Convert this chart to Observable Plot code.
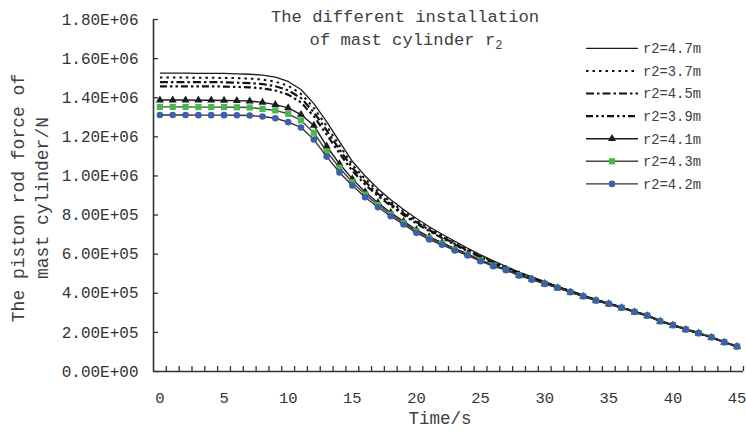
<!DOCTYPE html>
<html><head><meta charset="utf-8">
<script src="https://cdn.jsdelivr.net/npm/d3@7"></script>
<script src="https://cdn.jsdelivr.net/npm/@observablehq/plot@0.6"></script>
<style>
body{margin:0;background:#fff;}
#wrap{position:relative;width:746px;height:431px;font-family:"Liberation Mono",monospace;}
#wrap svg{position:absolute;left:0;top:0;overflow:visible;}
</style></head><body><div id="wrap"></div>
<script>
// ---------- data ----------
const time = [0,1,2,3,4,5,6,7,8,9,10,11,12,13,14,15,16,17,18,19,20,21,22,23,24,25,26,27,28,29,30,31,32,33,34,35,36,37,38,39,40,41,42,43,44,45];
const seriesNames = ["r2=4.7m","r2=3.7m","r2=4.5m","r2=3.9m","r2=4.1m","r2=4.3m","r2=4.2m"];
const r47 = [1526000,1526000,1526000,1525000,1525000,1524000,1522000,1520000,1516000,1505000,1483000,1442000,1370000,1278000,1176000,1075000,1000000,935000,878000,828000,782000,740000,702000,666000,630000,597000,566000,537000,508000,484000,460000,436000,413000,390000,367000,349000,328000,307000,287000,258000,238000,216000,196000,175000,150000,128000];
const r37 = [1503000,1503000,1503000,1502000,1502000,1501000,1500000,1498000,1493000,1482000,1461000,1420000,1348000,1255000,1155000,1058000,985000,922000,867000,818000,773000,732000,695000,659000,624000,591000,561000,533000,504000,481000,457000,434000,411000,389000,366000,348000,327000,306000,287000,258000,238000,216000,196000,175000,150000,128000];
const r45 = [1480000,1480000,1480000,1480000,1480000,1479000,1477000,1475000,1470000,1459000,1438000,1398000,1326000,1233000,1135000,1042000,970000,909000,856000,808000,764000,724000,688000,653000,619000,587000,557000,530000,502000,479000,455000,432000,410000,388000,365000,347000,327000,306000,287000,258000,238000,216000,196000,175000,150000,128000];
const r39 = [1458000,1458000,1458000,1458000,1458000,1457000,1455000,1453000,1448000,1437000,1416000,1376000,1305000,1212000,1116000,1026000,956000,898000,847000,800000,757000,718000,683000,648000,615000,584000,554000,528000,500000,477000,453000,431000,409000,387000,365000,347000,327000,306000,287000,258000,238000,216000,196000,175000,150000,128000];
const r41 = [1388000,1388000,1388000,1387000,1387000,1386000,1385000,1383000,1376000,1365000,1348000,1314000,1258000,1152000,1062000,985000,918000,863000,812000,768000,724000,688000,659000,628000,601000,571000,544000,522000,494000,472000,449000,428000,406000,384000,362000,345000,325000,304000,284000,256000,236000,214000,195000,173000,149000,127000];
const r43 = [1353000,1353000,1353000,1352000,1352000,1352000,1351000,1350000,1343000,1335000,1318000,1284000,1221000,1125000,1042000,968000,905000,852000,803000,760000,717000,682000,654000,624000,597000,568000,541000,520000,492000,471000,449000,428000,406000,385000,363000,346000,326000,305000,286000,257000,237000,215000,196000,175000,150000,128000];
const r42 = [1312000,1312000,1312000,1311000,1311000,1311000,1310000,1309000,1304000,1295000,1275000,1248000,1186000,1099000,1018000,951000,891000,840000,794000,752000,709000,675000,648000,619000,593000,564000,538000,518000,491000,470000,448000,428000,406000,385000,363000,346000,326000,305000,286000,257000,237000,215000,196000,175000,150000,128000];
const seriesValues = [r47, r37, r45, r39, r41, r43, r42];
const yTicks = [0,200000,400000,600000,800000,1000000,1200000,1400000,1600000,1800000];
const yTickLabels = ["0.00E+00","2.00E+05","4.00E+05","6.00E+05","8.00E+05","1.00E+06","1.20E+06","1.40E+06","1.60E+06","1.80E+06"];
const xTicks = [0,5,10,15,20,25,30,35,40,45];
const xMinorTicks = [0.5,1.5,2.5,3.5,4.5,5.5,6.5,7.5,8.5,9.5,10.5,11.5,12.5,13.5,14.5,15.5,16.5,17.5,18.5,19.5,20.5,21.5,22.5,23.5,24.5,25.5,26.5,27.5,28.5,29.5,30.5,31.5,32.5,33.5,34.5,35.5,36.5,37.5,38.5,39.5,40.5,41.5,42.5,43.5,44.5,45.5];
const titleLine1 = "The different installation";
const titleLine2 = "of mast cylinder r";
const titleSub = "2";
const yTitle1 = "The piston rod force of";
const yTitle2 = "mast cylinder/N";
const xTitle = "Time/s";

// ---------- styles ----------
const styles = [
  {stroke:"#1a1a1a", width:1.3, dash:null, symbol:null},
  {stroke:"#111", width:2, dash:"2.5,4", symbol:null},
  {stroke:"#111", width:2.2, dash:"8,3,2.5,3", symbol:null},
  {stroke:"#111", width:2.2, dash:"7,3,2.5,3,2.5,3", symbol:null},
  {stroke:"#1a1a1a", width:1.4, dash:null, symbol:"triangle", fill:"#1a1a1a", r:3},
  {stroke:"#444", width:1.4, dash:null, symbol:"square", fill:"#4bb749", r:3.5},
  {stroke:"#333", width:1.4, dash:null, symbol:"circle", fill:"#3d5fae", r:3.3}
];

const rows = seriesNames.map((name, i) => time.map((t, j) => ({t, v: seriesValues[i][j], s: name})));

const marks = [];
rows.forEach((data, i) => {
  const st = styles[i];
  marks.push(Plot.line(data, {x:"t", y:"v", stroke: st.stroke, strokeWidth: st.width, strokeDasharray: st.dash || undefined, strokeLinecap:"butt"}));
  if (st.symbol) marks.push(Plot.dot(data, {x:"t", y:"v", symbol: st.symbol, fill: st.fill, stroke:"none", r: st.r}));
});

const W = 746, H = 431, ML = 153, MR = 3, MT = 19, MB = 60;
const chart = Plot.plot({
  width: W, height: H,
  marginLeft: ML, marginRight: MR, marginTop: MT, marginBottom: MB,
  style: {fontFamily: "'Liberation Mono', monospace", color: "#333", background: "transparent", overflow:"visible"},
  x: {domain: [-0.5, 45.5], axis: null},
  y: {domain: [0, 1800000], axis: null},
  marks: [
    Plot.tickY(yTicks, {y: d => d, insetRight: (W - ML - MR) - 5, stroke:"#333", strokeWidth:1.3}),
    Plot.tickX(xMinorTicks, {x: d => d, insetTop: (H - MT - MB) - 5, stroke:"#333", strokeWidth:1.3}),
    Plot.ruleX([-0.5], {stroke:"#333", strokeWidth:1.6}),
    Plot.ruleY([0], {stroke:"#333", strokeWidth:1.6}),
    Plot.axisY(yTicks, {tickSize:0, tickPadding:15, fontSize:16, fill:"#333", label:null,
      tickFormat: d => yTickLabels[yTicks.indexOf(d)]}),
    Plot.axisX(xTicks, {tickSize:0, tickPadding:20, fontSize:15.5, fill:"#333", label:null}),
    ...marks
  ]
});
const wrap = document.getElementById("wrap");
wrap.appendChild(chart);

// ---------- overlay: titles and legend ----------
const ov = d3.select(wrap).append("svg").attr("width", W).attr("height", H)
  .style("font-family", "'Liberation Mono', monospace");

ov.append("text").attr("x", 405).attr("y", 21.7).attr("text-anchor","middle")
  .attr("font-size", 17.2).attr("fill","#404040").text(titleLine1);
const t2 = ov.append("text").attr("x", 406).attr("y", 44.5).attr("text-anchor","middle")
  .attr("font-size", 17.2).attr("fill","#404040");
t2.append("tspan").text(titleLine2);
t2.append("tspan").attr("font-size", 12).attr("dy", 4).text(titleSub);

ov.append("text").attr("transform","translate(24,198) rotate(-90)").attr("text-anchor","middle")
  .attr("font-size", 18).attr("fill","#404040").text(yTitle1);
ov.append("text").attr("transform","translate(48,198) rotate(-90)").attr("text-anchor","middle")
  .attr("font-size", 18).attr("fill","#404040").text(yTitle2);

ov.append("text").attr("x", 440).attr("y", 424).attr("text-anchor","middle")
  .attr("font-size", 17.5).attr("fill","#404040").text(xTitle);

const legendY0 = 48.3, legendStep = 22.6;
seriesNames.forEach((name, i) => {
  const st = styles[i];
  const y = legendY0 + i * legendStep;
  ov.append("line").attr("x1", 586).attr("x2", 638).attr("y1", y).attr("y2", y)
    .attr("stroke", st.stroke).attr("stroke-width", st.width)
    .attr("stroke-dasharray", st.dash || null);
  if (st.symbol) {
    const sym = {triangle: d3.symbolTriangle, square: d3.symbolSquare, circle: d3.symbolCircle}[st.symbol];
    ov.append("path").attr("transform", `translate(612,${y})`)
      .attr("d", d3.symbol(sym, Math.PI * st.r * st.r)()).attr("fill", st.fill);
  }
  ov.append("text").attr("x", 643).attr("y", y + 4.8).attr("font-size", 13.8)
    .attr("fill", "#404040").text(name);
});
</script></body></html>
